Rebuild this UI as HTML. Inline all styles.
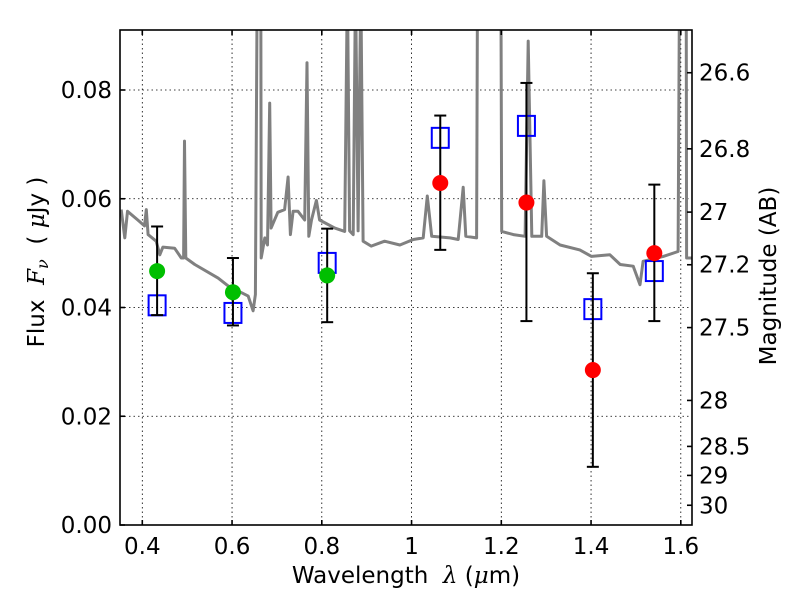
<!DOCTYPE html>
<html><head><meta charset="utf-8"><style>
body{margin:0;background:#fff}
svg{display:block;font-family:"DejaVu Sans","Liberation Sans",sans-serif}
</style></head><body>
<svg id="chart" width="800" height="600" viewBox="0 0 800 600" xmlns="http://www.w3.org/2000/svg"></svg>
<script>
const xTicks=[0.4,0.6,0.8,1.0,1.2,1.4,1.6];
const xTickLabels=["0.4","0.6","0.8","1","1.2","1.4","1.6"];
const yTicks=[0,0.02,0.04,0.06,0.08];
const yTickLabels=["0.00","0.02","0.04","0.06","0.08"];
const magTicks=[26.6,26.8,27,27.2,27.5,28,28.5,29,30];
const magTickLabels=["26.6","26.8","27","27.2","27.5","28","28.5","29","30"];
const specLam=[0.353,0.361,0.367,0.390,0.405,0.409,0.413,0.431,0.439,0.446,0.472,0.487,0.492,0.494,0.497,0.517,0.569,0.591,0.636,0.647,0.652,0.656,0.664,0.665,0.673,0.679,0.684,0.687,0.702,0.717,0.725,0.730,0.736,0.747,0.762,0.767,0.771,0.777,0.788,0.795,0.829,0.851,0.857,0.862,0.870,0.875,0.881,0.887,0.892,0.910,0.940,0.974,1.004,1.026,1.035,1.045,1.086,1.104,1.115,1.121,1.145,1.147,1.199,1.201,1.227,1.253,1.260,1.268,1.290,1.295,1.301,1.331,1.375,1.401,1.442,1.465,1.494,1.509,1.516,1.561,1.594,1.597,1.612,1.613,1.625];
const specFlux=[0.0580,0.0528,0.0577,0.0561,0.0550,0.0580,0.0534,0.0522,0.0497,0.0511,0.0509,0.0491,0.0491,0.0706,0.0491,0.0479,0.0454,0.0440,0.0421,0.0394,0.0424,0.1,0.1,0.0491,0.0528,0.0515,0.0776,0.0546,0.0575,0.0580,0.0640,0.0534,0.0577,0.0577,0.0561,0.0850,0.0531,0.0561,0.0597,0.0561,0.0546,0.0540,0.1,0.0541,0.0534,0.1,0.0541,0.1,0.0522,0.0513,0.0522,0.0515,0.0525,0.0528,0.0605,0.0531,0.0528,0.0525,0.0621,0.0531,0.0528,0.1,0.1,0.0540,0.0534,0.0531,0.0890,0.0531,0.0531,0.0633,0.0531,0.0515,0.0506,0.0494,0.0497,0.0479,0.0476,0.0442,0.0485,0.0494,0.0503,0.1,0.1,0.0491,0.0491];
const modelLam=[0.433,0.602,0.812,1.064,1.256,1.404,1.541];
const modelFlux=[0.0404,0.0390,0.0482,0.0712,0.0734,0.0397,0.0467];
const obsLam=[0.433,0.602,0.812,1.064,1.256,1.404,1.541];
const obsFlux=[0.0467,0.0428,0.0459,0.0629,0.0593,0.0285,0.0500];
const obsHi=[0.0549,0.0491,0.0545,0.0753,0.0813,0.0463,0.0626];
const obsLo=[0.0386,0.0367,0.0373,0.0506,0.0375,0.0107,0.0375];
const obsColor=["#00bf00","#00bf00","#00bf00","#ff0000","#ff0000","#ff0000","#ff0000"];

const L=120,R=692,T=30,B=525;
const X=v=>142.3+(v-0.4)*448.75;
const Y=v=>B-v*5437.5;
const svg=document.getElementById('chart');
const NS="http://www.w3.org/2000/svg";
function mk(tag,attrs,parent){const e=document.createElementNS(NS,tag);for(const k in attrs)e.setAttribute(k,attrs[k]);(parent||svg).appendChild(e);return e;}

const defs=mk('defs',{});
const cp=mk('clipPath',{id:'clip'},defs);
mk('rect',{x:L,y:T,width:R-L,height:B-T},cp);

const grid=mk('g',{'stroke':'#000','stroke-width':0.8,'stroke-dasharray':'1.5,3'});


xTicks.forEach(t=>{const l=mk('line',{x1:X(t),x2:X(t),y1:T,y2:B},grid);});
yTicks.forEach(t=>{const l=mk('line',{x1:L,x2:R,y1:Y(t),y2:Y(t)},grid);});

const g=mk('g',{'clip-path':'url(#clip)'});
const pts=specLam.map((l,i)=>X(l).toFixed(1)+','+Y(specFlux[i]).toFixed(1)).join(' ');
const sp=mk('polyline',{points:pts,fill:'none',stroke:'#808080','stroke-width':3,'stroke-linejoin':'round'},g);



modelLam.forEach((l,i)=>{
 const r=mk('rect',{x:X(l)-8.5,y:Y(modelFlux[i])-10,width:17,height:20,fill:'none',stroke:'#0000ff','stroke-width':2},g);
 
 
});
obsLam.forEach((l,i)=>{
 const x=X(l);
 const eb=mk('g',{stroke:'#000','stroke-width':2},g);
 
 
 mk('line',{x1:x,x2:x,y1:Y(obsHi[i]),y2:Y(obsLo[i])},eb);
 mk('line',{x1:x-6,x2:x+6,y1:Y(obsHi[i]),y2:Y(obsHi[i])},eb);
 mk('line',{x1:x-6,x2:x+6,y1:Y(obsLo[i]),y2:Y(obsLo[i])},eb);
 const c=mk('circle',{cx:x,cy:Y(obsFlux[i]),r:8,fill:obsColor[i]},g);
 
 
});

const ax=mk('g',{stroke:'#000','stroke-width':1.6,fill:'none'});


mk('rect',{x:L,y:T,width:R-L,height:B-T},ax);
xTicks.forEach(t=>{mk('line',{x1:X(t),x2:X(t),y1:B,y2:B-5},ax);mk('line',{x1:X(t),x2:X(t),y1:T,y2:T+5},ax);});
yTicks.forEach(t=>{mk('line',{x1:L,x2:L+5,y1:Y(t),y2:Y(t)},ax);});
magTicks.forEach(m=>{const y=Y(Math.pow(10,-(m-23.9)/2.5));mk('line',{x1:R,x2:R-5,y1:y,y2:y},ax);});

xTicks.forEach((t,i)=>{const e=mk('text',{x:X(t),y:554,'text-anchor':'middle','font-size':23},svg);e.textContent=xTickLabels[i];});
yTicks.forEach((t,i)=>{const e=mk('text',{x:112,y:Y(t)+8,'text-anchor':'end','font-size':23},svg);e.textContent=yTickLabels[i];});
magTicks.forEach((m,i)=>{const y=Y(Math.pow(10,-(m-23.9)/2.5));const e=mk('text',{x:699,y:y+8,'font-size':23},svg);e.textContent=magTickLabels[i];});
</script>
<svg style="position:absolute;left:0;top:0" width="800" height="600">
<text x="406" y="583" text-anchor="middle" font-size="23" font-family="DejaVu Sans,sans-serif" xml:space="preserve">Wavelength  <tspan font-style="italic" font-family="DejaVu Serif,serif">λ</tspan> (<tspan font-style="italic" font-family="DejaVu Serif,serif">μ</tspan>m)</text>
<text transform="translate(44,262) rotate(-90)" text-anchor="middle" font-size="23" font-family="DejaVu Sans,sans-serif" xml:space="preserve">Flux  <tspan font-style="italic" font-family="DejaVu Serif,serif">F<tspan font-size="16" dy="4">ν</tspan></tspan><tspan dy="-4">  ( </tspan><tspan font-style="italic" font-family="DejaVu Serif,serif">μ</tspan>Jy )</text>
<text transform="translate(776,276) rotate(-90)" text-anchor="middle" font-size="23" font-family="DejaVu Sans,sans-serif">Magnitude (AB)</text>
</svg>
</body></html>
